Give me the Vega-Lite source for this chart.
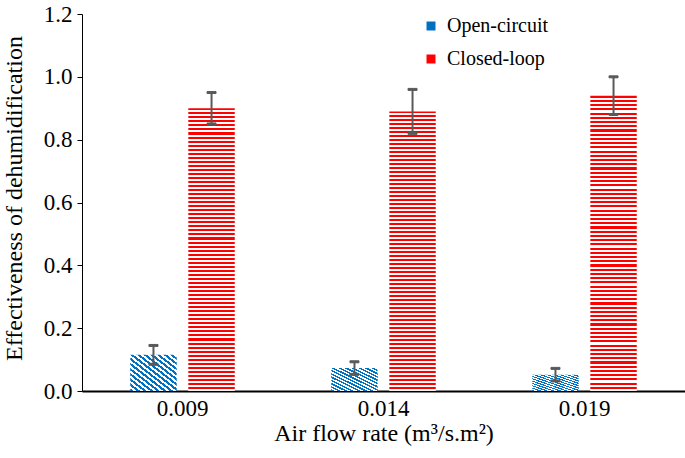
{
  "$schema": "https://vega.github.io/schema/vega-lite/v6.json",
  "autosize": {"type": "none"},
  "padding": {"left": 82, "top": 14, "right": 0, "bottom": 67},
  "width": 603,
  "height": 377,
  "background": "white",
  "config": {
    "view": {"stroke": null},
    "font": "Liberation Serif",
    "text": {"font": "Liberation Serif"},
    "axis": {"labelFont": "Liberation Serif", "titleFont": "Liberation Serif", "labelColor": "black", "titleColor": "black", "titleFontWeight": "normal", "grid": false},
    "legend": {"labelFont": "Liberation Serif", "labelColor": "black"}
  },
  "data": {
    "values": [
      {"rate": "0.009", "series": "Open-circuit", "value": 0.115, "lo": 0.085, "hi": 0.145},
      {"rate": "0.009", "series": "Closed-loop", "value": 0.90, "lo": 0.85, "hi": 0.95},
      {"rate": "0.014", "series": "Open-circuit", "value": 0.073, "lo": 0.053, "hi": 0.093},
      {"rate": "0.014", "series": "Closed-loop", "value": 0.89, "lo": 0.82, "hi": 0.96},
      {"rate": "0.019", "series": "Open-circuit", "value": 0.052, "lo": 0.032, "hi": 0.072},
      {"rate": "0.019", "series": "Closed-loop", "value": 0.94, "lo": 0.88, "hi": 1.0}
    ]
  },
  "encoding": {
    "x": {
      "field": "rate", "type": "nominal", "sort": ["0.009", "0.014", "0.019"],
      "scale": {"paddingInner": 0.48, "paddingOuter": 0.24},
      "axis": {
        "title": "Air flow rate (m³/s.m²)", "labelAngle": 0, "ticks": false,
        "domainColor": "black", "domainWidth": 2,
        "labelFont": "Liberation Serif", "titleFont": "Liberation Serif",
        "labelFontSize": 23, "labelPadding": 6,
        "titleFontSize": 24, "titleY": 49, "titleBaseline": "alphabetic"
      }
    },
    "xOffset": {
      "field": "series", "type": "nominal", "sort": ["Open-circuit", "Closed-loop"],
      "scale": {"domain": ["Open-circuit", "Closed-loop"], "paddingInner": 0.2, "paddingOuter": 0}
    },
    "y": {
      "field": "value", "type": "quantitative",
      "title": "Effectiveness of dehumidification",
      "scale": {"domain": [0, 1.2], "nice": false},
      "axis": {
        "values": [0, 0.2, 0.4, 0.6, 0.8, 1.0, 1.2], "format": ".1f",
        "domainColor": "black", "tickColor": "black", "tickSize": 5, "labelPadding": 5,
        "labelFont": "Liberation Serif", "titleFont": "Liberation Serif",
        "labelFontSize": 23, "titleFontSize": 24,
        "titleX": -68, "titleY": 184, "titleBaseline": "middle", "titleAngle": -90
      }
    },
    "stroke": {
      "field": "series", "type": "nominal",
      "scale": {"domain": ["Open-circuit", "Closed-loop"], "range": ["#0070C0", "#FF0000"]},
      "legend": {
        "title": null, "orient": "none", "legendX": 339, "legendY": 2,
        "padding": 0, "symbolType": "square", "symbolSize": 16, "symbolStrokeWidth": 5,
        "symbolFillColor": "transparent",
        "labelFont": "Liberation Serif", "labelFontSize": 20, "labelOffset": 6, "rowPadding": 9
      }
    }
  },
  "layer": [
    {
      "transform": [{"filter": "datum.series === 'Open-circuit'"}],
      "mark": {"type": "bar", "strokeWidth": 0,
        "fill": {"gradient": "linear", "x1": 0, "y1": 1, "x2": 1, "y2": 0, "stops": [
          {"offset": 0, "color": "#0070C0"}, {"offset": 0.0357, "color": "#0070C0"}, {"offset": 0.0357, "color": "#fff"}, {"offset": 0.0714, "color": "#fff"},
          {"offset": 0.0714, "color": "#0070C0"}, {"offset": 0.1071, "color": "#0070C0"}, {"offset": 0.1071, "color": "#fff"}, {"offset": 0.1429, "color": "#fff"},
          {"offset": 0.1429, "color": "#0070C0"}, {"offset": 0.1786, "color": "#0070C0"}, {"offset": 0.1786, "color": "#fff"}, {"offset": 0.2143, "color": "#fff"},
          {"offset": 0.2143, "color": "#0070C0"}, {"offset": 0.25, "color": "#0070C0"}, {"offset": 0.25, "color": "#fff"}, {"offset": 0.2857, "color": "#fff"},
          {"offset": 0.2857, "color": "#0070C0"}, {"offset": 0.3214, "color": "#0070C0"}, {"offset": 0.3214, "color": "#fff"}, {"offset": 0.3571, "color": "#fff"},
          {"offset": 0.3571, "color": "#0070C0"}, {"offset": 0.3929, "color": "#0070C0"}, {"offset": 0.3929, "color": "#fff"}, {"offset": 0.4286, "color": "#fff"},
          {"offset": 0.4286, "color": "#0070C0"}, {"offset": 0.4643, "color": "#0070C0"}, {"offset": 0.4643, "color": "#fff"}, {"offset": 0.5, "color": "#fff"},
          {"offset": 0.5, "color": "#0070C0"}, {"offset": 0.5357, "color": "#0070C0"}, {"offset": 0.5357, "color": "#fff"}, {"offset": 0.5714, "color": "#fff"},
          {"offset": 0.5714, "color": "#0070C0"}, {"offset": 0.6071, "color": "#0070C0"}, {"offset": 0.6071, "color": "#fff"}, {"offset": 0.6429, "color": "#fff"},
          {"offset": 0.6429, "color": "#0070C0"}, {"offset": 0.6786, "color": "#0070C0"}, {"offset": 0.6786, "color": "#fff"}, {"offset": 0.7143, "color": "#fff"},
          {"offset": 0.7143, "color": "#0070C0"}, {"offset": 0.75, "color": "#0070C0"}, {"offset": 0.75, "color": "#fff"}, {"offset": 0.7857, "color": "#fff"},
          {"offset": 0.7857, "color": "#0070C0"}, {"offset": 0.8214, "color": "#0070C0"}, {"offset": 0.8214, "color": "#fff"}, {"offset": 0.8571, "color": "#fff"},
          {"offset": 0.8571, "color": "#0070C0"}, {"offset": 0.8929, "color": "#0070C0"}, {"offset": 0.8929, "color": "#fff"}, {"offset": 0.9286, "color": "#fff"},
          {"offset": 0.9286, "color": "#0070C0"}, {"offset": 0.9643, "color": "#0070C0"}, {"offset": 0.9643, "color": "#fff"}, {"offset": 1, "color": "#fff"}
        ]}
      }
    },
    {
      "transform": [{"filter": "datum.series === 'Closed-loop'"}],
      "mark": {"type": "bar", "strokeWidth": 0,
        "fill": {"gradient": "linear", "x1": 0, "y1": 0, "x2": 0, "y2": 1, "stops": [
          {"offset": 0, "color": "#f00"}, {"offset": 0.0071, "color": "#f00"}, {"offset": 0.0071, "color": "#fff"}, {"offset": 0.0143, "color": "#fff"},
          {"offset": 0.0143, "color": "#f00"}, {"offset": 0.0214, "color": "#f00"}, {"offset": 0.0214, "color": "#fff"}, {"offset": 0.0286, "color": "#fff"},
          {"offset": 0.0286, "color": "#f00"}, {"offset": 0.0357, "color": "#f00"}, {"offset": 0.0357, "color": "#fff"}, {"offset": 0.0429, "color": "#fff"},
          {"offset": 0.0429, "color": "#f00"}, {"offset": 0.05, "color": "#f00"}, {"offset": 0.05, "color": "#fff"}, {"offset": 0.0571, "color": "#fff"},
          {"offset": 0.0571, "color": "#f00"}, {"offset": 0.0643, "color": "#f00"}, {"offset": 0.0643, "color": "#fff"}, {"offset": 0.0714, "color": "#fff"},
          {"offset": 0.0714, "color": "#f00"}, {"offset": 0.0786, "color": "#f00"}, {"offset": 0.0786, "color": "#fff"}, {"offset": 0.0857, "color": "#fff"},
          {"offset": 0.0857, "color": "#f00"}, {"offset": 0.0929, "color": "#f00"}, {"offset": 0.0929, "color": "#fff"}, {"offset": 0.1, "color": "#fff"},
          {"offset": 0.1, "color": "#f00"}, {"offset": 0.1071, "color": "#f00"}, {"offset": 0.1071, "color": "#fff"}, {"offset": 0.1143, "color": "#fff"},
          {"offset": 0.1143, "color": "#f00"}, {"offset": 0.1214, "color": "#f00"}, {"offset": 0.1214, "color": "#fff"}, {"offset": 0.1286, "color": "#fff"},
          {"offset": 0.1286, "color": "#f00"}, {"offset": 0.1357, "color": "#f00"}, {"offset": 0.1357, "color": "#fff"}, {"offset": 0.1429, "color": "#fff"},
          {"offset": 0.1429, "color": "#f00"}, {"offset": 0.15, "color": "#f00"}, {"offset": 0.15, "color": "#fff"}, {"offset": 0.1571, "color": "#fff"},
          {"offset": 0.1571, "color": "#f00"}, {"offset": 0.1643, "color": "#f00"}, {"offset": 0.1643, "color": "#fff"}, {"offset": 0.1714, "color": "#fff"},
          {"offset": 0.1714, "color": "#f00"}, {"offset": 0.1786, "color": "#f00"}, {"offset": 0.1786, "color": "#fff"}, {"offset": 0.1857, "color": "#fff"},
          {"offset": 0.1857, "color": "#f00"}, {"offset": 0.1929, "color": "#f00"}, {"offset": 0.1929, "color": "#fff"}, {"offset": 0.2, "color": "#fff"},
          {"offset": 0.2, "color": "#f00"}, {"offset": 0.2071, "color": "#f00"}, {"offset": 0.2071, "color": "#fff"}, {"offset": 0.2143, "color": "#fff"},
          {"offset": 0.2143, "color": "#f00"}, {"offset": 0.2214, "color": "#f00"}, {"offset": 0.2214, "color": "#fff"}, {"offset": 0.2286, "color": "#fff"},
          {"offset": 0.2286, "color": "#f00"}, {"offset": 0.2357, "color": "#f00"}, {"offset": 0.2357, "color": "#fff"}, {"offset": 0.2429, "color": "#fff"},
          {"offset": 0.2429, "color": "#f00"}, {"offset": 0.25, "color": "#f00"}, {"offset": 0.25, "color": "#fff"}, {"offset": 0.2571, "color": "#fff"},
          {"offset": 0.2571, "color": "#f00"}, {"offset": 0.2643, "color": "#f00"}, {"offset": 0.2643, "color": "#fff"}, {"offset": 0.2714, "color": "#fff"},
          {"offset": 0.2714, "color": "#f00"}, {"offset": 0.2786, "color": "#f00"}, {"offset": 0.2786, "color": "#fff"}, {"offset": 0.2857, "color": "#fff"},
          {"offset": 0.2857, "color": "#f00"}, {"offset": 0.2929, "color": "#f00"}, {"offset": 0.2929, "color": "#fff"}, {"offset": 0.3, "color": "#fff"},
          {"offset": 0.3, "color": "#f00"}, {"offset": 0.3071, "color": "#f00"}, {"offset": 0.3071, "color": "#fff"}, {"offset": 0.3143, "color": "#fff"},
          {"offset": 0.3143, "color": "#f00"}, {"offset": 0.3214, "color": "#f00"}, {"offset": 0.3214, "color": "#fff"}, {"offset": 0.3286, "color": "#fff"},
          {"offset": 0.3286, "color": "#f00"}, {"offset": 0.3357, "color": "#f00"}, {"offset": 0.3357, "color": "#fff"}, {"offset": 0.3429, "color": "#fff"},
          {"offset": 0.3429, "color": "#f00"}, {"offset": 0.35, "color": "#f00"}, {"offset": 0.35, "color": "#fff"}, {"offset": 0.3571, "color": "#fff"},
          {"offset": 0.3571, "color": "#f00"}, {"offset": 0.3643, "color": "#f00"}, {"offset": 0.3643, "color": "#fff"}, {"offset": 0.3714, "color": "#fff"},
          {"offset": 0.3714, "color": "#f00"}, {"offset": 0.3786, "color": "#f00"}, {"offset": 0.3786, "color": "#fff"}, {"offset": 0.3857, "color": "#fff"},
          {"offset": 0.3857, "color": "#f00"}, {"offset": 0.3929, "color": "#f00"}, {"offset": 0.3929, "color": "#fff"}, {"offset": 0.4, "color": "#fff"},
          {"offset": 0.4, "color": "#f00"}, {"offset": 0.4071, "color": "#f00"}, {"offset": 0.4071, "color": "#fff"}, {"offset": 0.4143, "color": "#fff"},
          {"offset": 0.4143, "color": "#f00"}, {"offset": 0.4214, "color": "#f00"}, {"offset": 0.4214, "color": "#fff"}, {"offset": 0.4286, "color": "#fff"},
          {"offset": 0.4286, "color": "#f00"}, {"offset": 0.4357, "color": "#f00"}, {"offset": 0.4357, "color": "#fff"}, {"offset": 0.4429, "color": "#fff"},
          {"offset": 0.4429, "color": "#f00"}, {"offset": 0.45, "color": "#f00"}, {"offset": 0.45, "color": "#fff"}, {"offset": 0.4571, "color": "#fff"},
          {"offset": 0.4571, "color": "#f00"}, {"offset": 0.4643, "color": "#f00"}, {"offset": 0.4643, "color": "#fff"}, {"offset": 0.4714, "color": "#fff"},
          {"offset": 0.4714, "color": "#f00"}, {"offset": 0.4786, "color": "#f00"}, {"offset": 0.4786, "color": "#fff"}, {"offset": 0.4857, "color": "#fff"},
          {"offset": 0.4857, "color": "#f00"}, {"offset": 0.4929, "color": "#f00"}, {"offset": 0.4929, "color": "#fff"}, {"offset": 0.5, "color": "#fff"},
          {"offset": 0.5, "color": "#f00"}, {"offset": 0.5071, "color": "#f00"}, {"offset": 0.5071, "color": "#fff"}, {"offset": 0.5143, "color": "#fff"},
          {"offset": 0.5143, "color": "#f00"}, {"offset": 0.5214, "color": "#f00"}, {"offset": 0.5214, "color": "#fff"}, {"offset": 0.5286, "color": "#fff"},
          {"offset": 0.5286, "color": "#f00"}, {"offset": 0.5357, "color": "#f00"}, {"offset": 0.5357, "color": "#fff"}, {"offset": 0.5429, "color": "#fff"},
          {"offset": 0.5429, "color": "#f00"}, {"offset": 0.55, "color": "#f00"}, {"offset": 0.55, "color": "#fff"}, {"offset": 0.5571, "color": "#fff"},
          {"offset": 0.5571, "color": "#f00"}, {"offset": 0.5643, "color": "#f00"}, {"offset": 0.5643, "color": "#fff"}, {"offset": 0.5714, "color": "#fff"},
          {"offset": 0.5714, "color": "#f00"}, {"offset": 0.5786, "color": "#f00"}, {"offset": 0.5786, "color": "#fff"}, {"offset": 0.5857, "color": "#fff"},
          {"offset": 0.5857, "color": "#f00"}, {"offset": 0.5929, "color": "#f00"}, {"offset": 0.5929, "color": "#fff"}, {"offset": 0.6, "color": "#fff"},
          {"offset": 0.6, "color": "#f00"}, {"offset": 0.6071, "color": "#f00"}, {"offset": 0.6071, "color": "#fff"}, {"offset": 0.6143, "color": "#fff"},
          {"offset": 0.6143, "color": "#f00"}, {"offset": 0.6214, "color": "#f00"}, {"offset": 0.6214, "color": "#fff"}, {"offset": 0.6286, "color": "#fff"},
          {"offset": 0.6286, "color": "#f00"}, {"offset": 0.6357, "color": "#f00"}, {"offset": 0.6357, "color": "#fff"}, {"offset": 0.6429, "color": "#fff"},
          {"offset": 0.6429, "color": "#f00"}, {"offset": 0.65, "color": "#f00"}, {"offset": 0.65, "color": "#fff"}, {"offset": 0.6571, "color": "#fff"},
          {"offset": 0.6571, "color": "#f00"}, {"offset": 0.6643, "color": "#f00"}, {"offset": 0.6643, "color": "#fff"}, {"offset": 0.6714, "color": "#fff"},
          {"offset": 0.6714, "color": "#f00"}, {"offset": 0.6786, "color": "#f00"}, {"offset": 0.6786, "color": "#fff"}, {"offset": 0.6857, "color": "#fff"},
          {"offset": 0.6857, "color": "#f00"}, {"offset": 0.6929, "color": "#f00"}, {"offset": 0.6929, "color": "#fff"}, {"offset": 0.7, "color": "#fff"},
          {"offset": 0.7, "color": "#f00"}, {"offset": 0.7071, "color": "#f00"}, {"offset": 0.7071, "color": "#fff"}, {"offset": 0.7143, "color": "#fff"},
          {"offset": 0.7143, "color": "#f00"}, {"offset": 0.7214, "color": "#f00"}, {"offset": 0.7214, "color": "#fff"}, {"offset": 0.7286, "color": "#fff"},
          {"offset": 0.7286, "color": "#f00"}, {"offset": 0.7357, "color": "#f00"}, {"offset": 0.7357, "color": "#fff"}, {"offset": 0.7429, "color": "#fff"},
          {"offset": 0.7429, "color": "#f00"}, {"offset": 0.75, "color": "#f00"}, {"offset": 0.75, "color": "#fff"}, {"offset": 0.7571, "color": "#fff"},
          {"offset": 0.7571, "color": "#f00"}, {"offset": 0.7643, "color": "#f00"}, {"offset": 0.7643, "color": "#fff"}, {"offset": 0.7714, "color": "#fff"},
          {"offset": 0.7714, "color": "#f00"}, {"offset": 0.7786, "color": "#f00"}, {"offset": 0.7786, "color": "#fff"}, {"offset": 0.7857, "color": "#fff"},
          {"offset": 0.7857, "color": "#f00"}, {"offset": 0.7929, "color": "#f00"}, {"offset": 0.7929, "color": "#fff"}, {"offset": 0.8, "color": "#fff"},
          {"offset": 0.8, "color": "#f00"}, {"offset": 0.8071, "color": "#f00"}, {"offset": 0.8071, "color": "#fff"}, {"offset": 0.8143, "color": "#fff"},
          {"offset": 0.8143, "color": "#f00"}, {"offset": 0.8214, "color": "#f00"}, {"offset": 0.8214, "color": "#fff"}, {"offset": 0.8286, "color": "#fff"},
          {"offset": 0.8286, "color": "#f00"}, {"offset": 0.8357, "color": "#f00"}, {"offset": 0.8357, "color": "#fff"}, {"offset": 0.8429, "color": "#fff"},
          {"offset": 0.8429, "color": "#f00"}, {"offset": 0.85, "color": "#f00"}, {"offset": 0.85, "color": "#fff"}, {"offset": 0.8571, "color": "#fff"},
          {"offset": 0.8571, "color": "#f00"}, {"offset": 0.8643, "color": "#f00"}, {"offset": 0.8643, "color": "#fff"}, {"offset": 0.8714, "color": "#fff"},
          {"offset": 0.8714, "color": "#f00"}, {"offset": 0.8786, "color": "#f00"}, {"offset": 0.8786, "color": "#fff"}, {"offset": 0.8857, "color": "#fff"},
          {"offset": 0.8857, "color": "#f00"}, {"offset": 0.8929, "color": "#f00"}, {"offset": 0.8929, "color": "#fff"}, {"offset": 0.9, "color": "#fff"},
          {"offset": 0.9, "color": "#f00"}, {"offset": 0.9071, "color": "#f00"}, {"offset": 0.9071, "color": "#fff"}, {"offset": 0.9143, "color": "#fff"},
          {"offset": 0.9143, "color": "#f00"}, {"offset": 0.9214, "color": "#f00"}, {"offset": 0.9214, "color": "#fff"}, {"offset": 0.9286, "color": "#fff"},
          {"offset": 0.9286, "color": "#f00"}, {"offset": 0.9357, "color": "#f00"}, {"offset": 0.9357, "color": "#fff"}, {"offset": 0.9429, "color": "#fff"},
          {"offset": 0.9429, "color": "#f00"}, {"offset": 0.95, "color": "#f00"}, {"offset": 0.95, "color": "#fff"}, {"offset": 0.9571, "color": "#fff"},
          {"offset": 0.9571, "color": "#f00"}, {"offset": 0.9643, "color": "#f00"}, {"offset": 0.9643, "color": "#fff"}, {"offset": 0.9714, "color": "#fff"},
          {"offset": 0.9714, "color": "#f00"}, {"offset": 0.9786, "color": "#f00"}, {"offset": 0.9786, "color": "#fff"}, {"offset": 0.9857, "color": "#fff"},
          {"offset": 0.9857, "color": "#f00"}, {"offset": 0.9929, "color": "#f00"}, {"offset": 0.9929, "color": "#fff"}, {"offset": 1, "color": "#fff"}
        ]}
      }
    },
    {
      "mark": {"type": "rule", "color": "#595959", "strokeWidth": 2},
      "encoding": {
        "y": {"field": "lo", "type": "quantitative", "title": "Effectiveness of dehumidification"},
        "y2": {"field": "hi"},
        "stroke": {"value": "#595959"}
      }
    },
    {
      "mark": {"type": "tick", "color": "#595959", "thickness": 2, "size": 9, "opacity": 1},
      "encoding": {
        "y": {"field": "lo", "type": "quantitative", "title": "Effectiveness of dehumidification"},
        "stroke": {"value": "#595959"}
      }
    },
    {
      "mark": {"type": "tick", "color": "#595959", "thickness": 2, "size": 9, "opacity": 1},
      "encoding": {
        "y": {"field": "hi", "type": "quantitative", "title": "Effectiveness of dehumidification"},
        "stroke": {"value": "#595959"}
      }
    }
  ]
}
